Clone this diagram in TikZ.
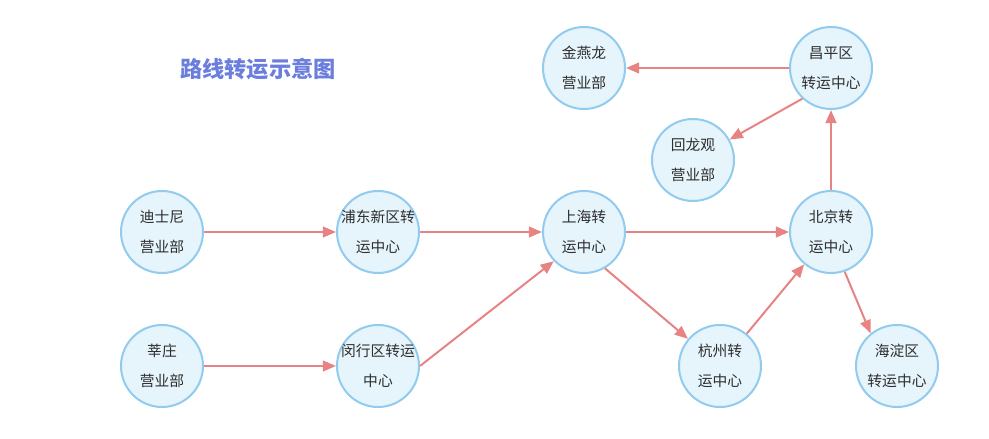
\documentclass[tikz,border=0pt]{standalone}
\usepackage{fontspec}
\newfontfamily\cjk{Noto Sans CJK SC}
\usetikzlibrary{arrows.meta,positioning}
\definecolor{rim}{HTML}{91CBEE}
\definecolor{disc}{HTML}{E6F4FC}
\definecolor{link}{HTML}{E88383}
\definecolor{heading}{HTML}{6B7EDD}
\definecolor{ink}{HTML}{2E2E2E}

\begin{document}
\begin{tikzpicture}[
  text=ink,
  hub/.style={circle,draw=rim,fill=disc,line width=0.05cm,minimum size=2.05cm,inner sep=-3pt,align=center,
    font=\cjk\fontsize{10.5}{21.5}\selectfont},
  arrow/.style={-{Triangle[length=0.33cm,width=0.27cm]},line width=0.05cm,link},
  title/.style={font=\cjk\bfseries\fontsize{15.8}{18}\selectfont,text=heading}
]
  \useasboundingbox (0,0) rectangle (24.725,-10.975);

  \node[hub] (dsn) at (4.05,-5.8) {迪士尼\\营业部};
  \node[hub,right=3.3cm of dsn] (pd) {浦东新区转\\运中心};
  \node[hub,right=3.05cm of pd] (sh) {上海转\\运中心};
  \node[hub,right=4.075cm of sh] (bj) {北京转\\运中心};
  \node[hub,above=2.0cm of bj] (cp) {昌平区\\转运中心};
  \node[hub,left=4.075cm of cp] (jyl) {金燕龙\\营业部};
  \node[hub,below=0.2cm of cp,xshift=-3.45cm] (hlg) {回龙观\\营业部};
  \node[hub,below=1.25cm of dsn] (xz) {莘庄\\营业部};
  \node[hub,right=3.3cm of xz] (mh) {闵行区转运\\中心};
  \node[hub,right=6.45cm of mh] (hz) {杭州转\\运中心};
  \node[hub,right=2.325cm of hz] (hd) {海淀区\\转运中心};

  \draw[arrow] (dsn) -- (pd);
  \draw[arrow] (pd) -- (sh);
  \draw[arrow] (xz) -- (mh);
  \draw[arrow] (mh.east) -- (sh.-136);
  \draw[arrow] (sh) -- (bj);
  \draw[arrow] (sh.-60) -- (hz);
  \draw[arrow] (hz) -- (bj);
  \draw[arrow] (bj) -- (cp);
  \draw[arrow] (bj.-71) -- (hd.129);
  \draw[arrow] (cp) -- (jyl);
  \draw[arrow] (cp.-133) -- (hlg);

  \node[title] (head) at (6.45,-1.725) {路线转运示意图};
\end{tikzpicture}
\end{document}
